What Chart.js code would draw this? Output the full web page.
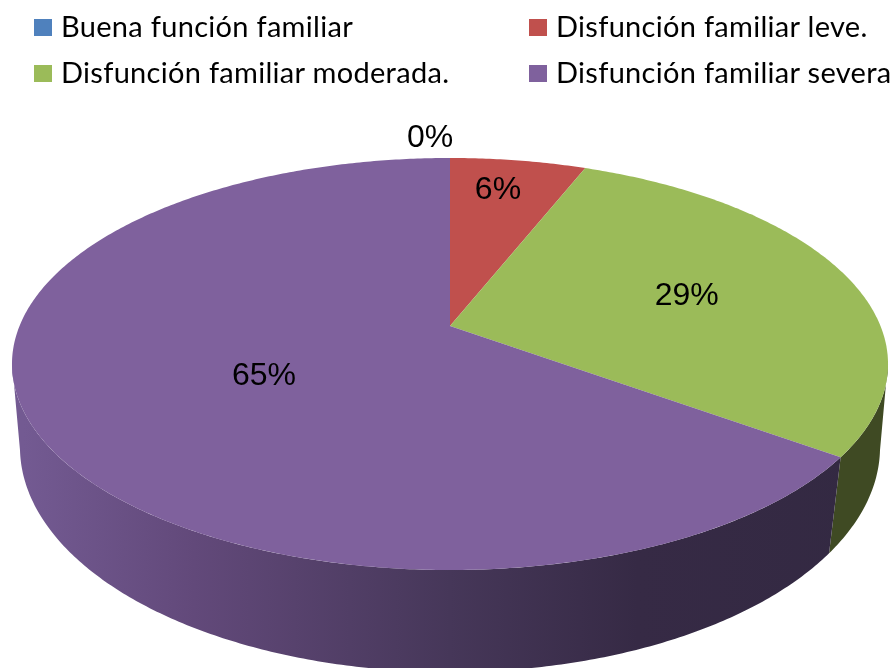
<!DOCTYPE html>
<html lang="es">
<head>
<meta charset="utf-8">
<title>Función familiar</title>
<script src="https://cdn.jsdelivr.net/npm/chart.js@4"></script>
<style>
    html, body { margin: 0; padding: 0; background: #fff; }
    #wrap { position: relative; width: 896px; height: 668px; overflow: hidden; }
    #pie { position: absolute; left: 0; top: 0; }
    .key { position: absolute; font: 29px Lato, sans-serif; line-height: 34px; color: #000; white-space: nowrap; letter-spacing: 0.3px; }
    .key i { position: absolute; left: -27px; top: 10px; width: 18px; height: 17px; }
</style>
</head>
<body>
<div id="wrap">
    <canvas id="pie" width="896" height="668"></canvas>
</div>
<script>
    const categories = ['Buena función familiar', 'Disfunción familiar leve.', 'Disfunción familiar moderada.', 'Disfunción familiar severa'];
    const percentages = [0, 6, 29, 65];
    const sliceColors = ['#4f81bd', '#c0504d', '#9bbb59', '#7f619d'];
    const wallColors = ['#27405e', '#602826', '#3f4a23', null];

    // Perspective of the top and bottom faces of the disc
    const topFace = { cx: 450, cy: 326, k: 0.1845, a: 199, b: 430.5 };
    const bottomFace = { cx: 450, cy: 411, k: 0.16, a: 219.3, b: 424.5 };

    // Where each percentage sits: fraction of the radius, then a nudge in px
    const labelRadius = [1, 0.81, 0.59, 0.466];
    const labelNudgeX = [-20, -9, 0, 0];
    const labelNudgeY = [-20, 2, 2, 6];

    const project = (face, angle, r = 1) => {
        const u = Math.cos(angle) * r;
        const v = Math.sin(angle) * r;
        const d = 1 - face.k * v;
        return { x: face.cx + face.b * u / d, y: face.cy + face.a * v / d };
    };

    const traceArc = (ctx, face, from, to) => {
        const steps = Math.max(2, Math.ceil(Math.abs(to - from) / 0.01));
        for (let i = 0; i <= steps; i++) {
            const p = project(face, from + (to - from) * i / steps);
            ctx.lineTo(p.x, p.y);
        }
    };

    const wallGradient = (ctx) => {
        const g = ctx.createLinearGradient(24, 0, 876, 0);
        g.addColorStop(0, '#735a92');
        g.addColorStop(0.2, '#62497a');
        g.addColorStop(0.5, '#463759');
        g.addColorStop(0.72, '#362a45');
        g.addColorStop(1, '#332942');
        return g;
    };

    // Chart.js only draws flat circles, so the arcs it computed are drawn here in perspective
    const disc3d = {
        id: 'disc3d',
        beforeDatasetsDraw(chart) {
            const ctx = chart.ctx;
            const arcs = chart.getDatasetMeta(0).data;
            const frontStart = 10 * Math.PI / 180;
            const frontEnd = 170 * Math.PI / 180;

            arcs.forEach((arc, i) => {
                const from = Math.max(arc.startAngle, frontStart);
                const to = Math.min(arc.endAngle, frontEnd);
                if (to <= from) return;
                ctx.beginPath();
                traceArc(ctx, topFace, from, to);
                traceArc(ctx, bottomFace, to, from);
                ctx.closePath();
                ctx.fillStyle = wallColors[i] || wallGradient(ctx);
                ctx.fill();
            });

            arcs.forEach((arc) => {
                if (arc.endAngle <= arc.startAngle) return;
                ctx.beginPath();
                ctx.moveTo(topFace.cx, topFace.cy);
                traceArc(ctx, topFace, arc.startAngle, arc.endAngle);
                ctx.closePath();
                ctx.fillStyle = arc.options.backgroundColor;
                ctx.fill();
            });

            ctx.fillStyle = '#000';
            ctx.font = '32px "Liberation Sans", Arial, sans-serif';
            ctx.textAlign = 'center';
            ctx.textBaseline = 'middle';
            arcs.forEach((arc, i) => {
                const mid = (arc.startAngle + arc.endAngle) / 2;
                const p = project(topFace, mid, labelRadius[i]);
                ctx.fillText(percentages[i] + '%', p.x + labelNudgeX[i], p.y + labelNudgeY[i]);
            });
            return false;
        }
    };

    const chart = new Chart(document.getElementById('pie'), {
        type: 'pie',
        data: {
            labels: categories,
            datasets: [{ data: percentages, backgroundColor: sliceColors, borderWidth: 0 }]
        },
        options: {
            responsive: false,
            animation: false,
            plugins: { legend: { display: false }, tooltip: { enabled: false } }
        },
        plugins: [disc3d]
    });

    // Two column legend, the built in one can't line up its columns
    const keyLeft = [61, 556];
    const keyTop = [9, 55];
    const wrap = document.getElementById('wrap');
    chart.options.plugins.legend.labels.generateLabels(chart).forEach((item, i) => {
        const key = document.createElement('div');
        key.className = 'key';
        key.style.left = keyLeft[i % 2] + 'px';
        key.style.top = keyTop[Math.floor(i / 2)] + 'px';
        key.textContent = item.text;
        const box = document.createElement('i');
        box.style.background = item.fillStyle;
        key.appendChild(box);
        wrap.appendChild(key);
    });
</script>
</body>
</html>
